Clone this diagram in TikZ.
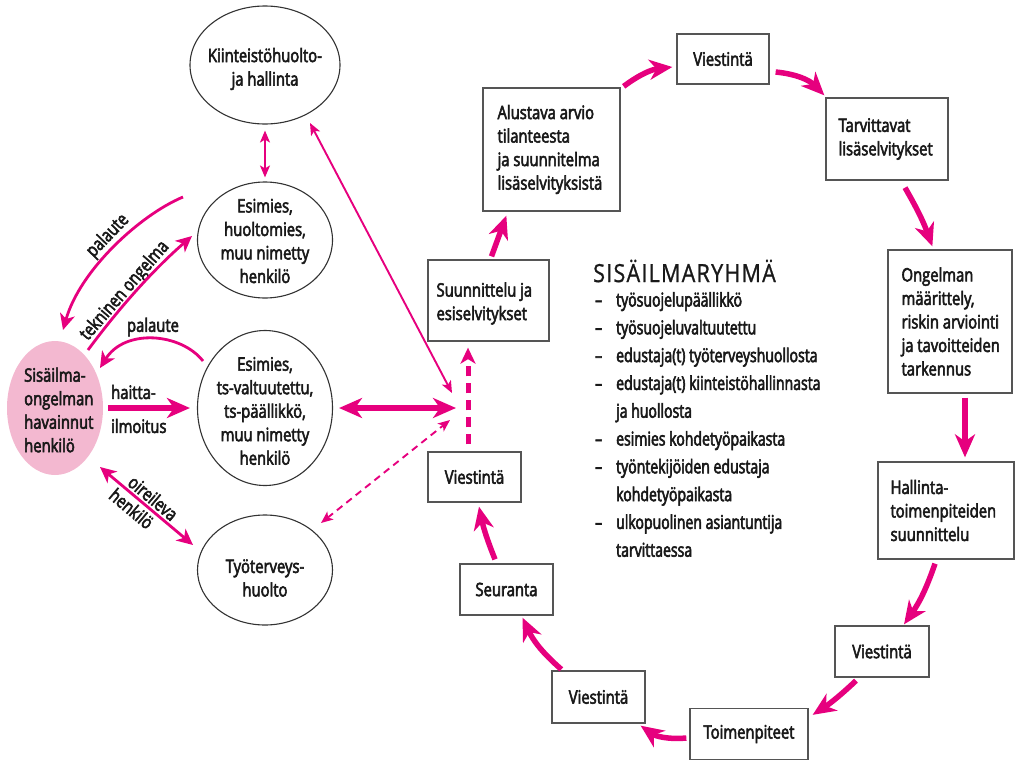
\documentclass[tikz,border=0pt]{standalone}
\usepackage{fontspec}
\usetikzlibrary{shapes.geometric,arrows.meta,calc}
\newfontfamily\bodyfont[FakeStretch=0.8,FakeBold=3]{Open Sans}
\newfontfamily\listfont[FakeStretch=0.74,FakeBold=3]{Open Sans}
\newfontfamily\headfont[FakeStretch=0.86,LetterSpace=5,FakeBold=1]{Open Sans}
\definecolor{mag}{RGB}{230,0,126}
\definecolor{rose}{RGB}{243,184,208}
\definecolor{frame}{RGB}{85,85,85}
\tikzset{
  bighead/.tip={Stealth[length=23pt,width=20pt,inset=7pt]},
  midhead/.tip={Stealth[length=16pt,width=15pt,inset=4.5pt]},
  smallhead/.tip={Stealth[length=12pt,width=10pt,inset=3pt]},
}
\begin{document}
\begin{tikzpicture}[x=1pt,y=-1pt,
  lbl/.style={font=\bodyfont\fontsize{18.5}{23.5}\selectfont, inner sep=0pt, text=black!90},
  lst/.style={font=\listfont\fontsize{19}{20}\selectfont, inner sep=0pt, text=black!90,
              text height=13.5pt, text depth=4.5pt},
  ell/.style={ellipse, draw=black!80, line width=1.1pt, inner sep=0pt},
  blk/.style={rectangle, draw=frame, line width=1.3pt, inner sep=0pt},
  cyc/.style={draw=mag, line width=5.5pt, -bighead},
  fat/.style={draw=mag, line width=6pt},
  lightarrow/.style={draw=mag, line width=1.9pt},
  medarrow/.style={draw=mag, line width=2.8pt},
]
\useasboundingbox (0,0) rectangle (1015,761);

% ---- parties on the left ----
\node[ell, minimum width=150pt, minimum height=118pt] (K) at (265,65) {};
\node[ell, minimum width=135pt, minimum height=116pt] (E1) at (265,240) {};
\node[ell, minimum width=135pt, minimum height=155pt] (E2) at (265,408) {};
\node[ell, minimum width=135pt, minimum height=110pt] (T) at (265,570) {};
\node[ellipse, fill=rose, minimum width=96pt, minimum height=134pt, inner sep=0pt] (S) at (55,408) {};

\node[lbl, align=center] (Kt) at (265,69) {Kiinteistöhuolto-\\ja hallinta};
\node[lbl, align=center] (E1t) at (265,241) {Esimies,\\huoltomies,\\muu nimetty\\henkilö};
\node[lbl, align=center] (E2t) at (265,411) {Esimies,\\ts-valtuutettu,\\ts-päällikkö,\\muu nimetty\\henkilö};
\node[lbl, align=center] (Tt) at (265,578) {Työterveys-\\huolto};
\node[lbl, align=left, anchor=west] (St) at (24,410) {Sisäilma-\\ongelman\\havainnut\\henkilö};

\node[lbl, anchor=west] (h1) at (111,392) {haitta-};
\node[lbl, anchor=west] (h2) at (111,426) {ilmoitus};
\node[lbl, rotate=46] (pal1) at (108,236) {palaute};
\node[lbl, rotate=49] (tek) at (125,291) {tekninen ongelma};
\node[lbl] (pal2) at (153,327) {palaute};

% ---- indoor air group cycle ----
\node[blk, minimum width=92pt, minimum height=50pt] (V1) at (723,59) {};
\node[blk, minimum width=137pt, minimum height=123pt] (A) at (551.5,149.5) {};
\node[blk, minimum width=122pt, minimum height=82pt] (Tv) at (887,139) {};
\node[blk, minimum width=124pt, minimum height=143pt] (O) at (950,321.5) {};
\node[blk, minimum width=136pt, minimum height=97pt] (H) at (946,510.5) {};
\node[blk, minimum width=94pt, minimum height=51pt] (V2) at (882,651.5) {};
\node[blk, minimum width=118pt, minimum height=51pt] (Tm) at (749,734) {};
\node[blk, minimum width=93pt, minimum height=52pt] (V3) at (598.5,697) {};
\node[blk, minimum width=93pt, minimum height=51pt] (Se) at (506.5,589.5) {};
\node[blk, minimum width=93pt, minimum height=50pt] (V4) at (474.5,477) {};
\node[blk, minimum width=121pt, minimum height=81pt] (Su) at (488.5,300.5) {};

\node[lbl] (V1t) at (V1) {Viestintä};
\node[lbl] (V2t) at (V2) {Viestintä};
\node[lbl] (V3t) at (V3) {Viestintä};
\node[lbl] (V4t) at (V4) {Viestintä};
\node[lbl] (Tmt) at (Tm) {Toimenpiteet};
\node[lbl] (Set) at (Se) {Seuranta};
\node[lbl, align=left, anchor=west] (At) at ($(A.west)+(15,0)$) {Alustava arvio\\tilanteesta\\ja suunnitelma\\lisäselvityksistä};
\node[lbl, align=left, anchor=west] (Tvt) at ($(Tv.west)+(13,0)$) {Tarvittavat\\lisäselvitykset};
\node[lbl, align=left, anchor=west] (Ot) at ($(O.west)+(14,0)$) {Ongelman\\määrittely,\\riskin arviointi\\ja tavoitteiden\\tarkennus};
\node[lbl, align=left, anchor=west] (Ht) at ($(H.west)+(13,0)$) {Hallinta-\\toimenpiteiden\\suunnittelu};
\node[lbl, align=left, anchor=west] (Sut) at ($(Su.west)+(9,3)$) {Suunnittelu ja\\esiselvitykset};

% ---- member list ----
\node[anchor=west, inner sep=0pt, text=black!90, font=\headfont\fontsize{25}{30}\selectfont] (ttl) at (593,271) {SISÄILMARYHMÄ};
\foreach \d/\t [count=\i from 0] in {1/työsuojelupäällikkö, 1/työsuojeluvaltuutettu,
  1/edustaja(t) työterveyshuollosta, 1/edustaja(t) kiinteistöhallinnasta, 0/ja huollosta,
  1/esimies kohdetyöpaikasta, 1/työntekijöiden edustaja, 0/kohdetyöpaikasta,
  1/ulkopuolinen asiantuntija, 0/tarvittaessa}{
  \node[lst, anchor=west] (li\i) at (616,302+27.8*\i) {\t};
  \ifnum\d=1 \node[lst, anchor=west] (ld\i) at (595,302+27.8*\i) {–}; \fi
}

% ---- connectors on the left ----
\coordinate (hub) at (457,408);
\draw[fat, bighead-bighead] ($(E2.east)+(6,0)$) -- ($(hub)+(-1,0)$);
\draw[fat, -bighead] ($(S.east)+(5,0)$) -- ($(E2.west)+(-7,0)$);
\draw[lightarrow, smallhead-smallhead] ($(K)+(45,58)$) -- ($(hub)+(-5,-15)$);
\draw[lightarrow, dash pattern=on 7pt off 5pt, smallhead-smallhead] ($(T)+(56,-47)$) -- ($(hub)+(-7,12)$);
\draw[lightarrow, smallhead-smallhead] ($(K.south)+(0,6)$) -- ($(E1.north)+(0,-4)$);
\draw[draw=mag, line width=5pt, dash pattern=on 10pt off 7pt, -midhead] ($(V4.north)+(-6.5,-7)$) -- ($(Su.south)+(-20.5,6)$);

\draw[medarrow, -midhead] ($(E2)+(-62,-47)$) .. controls +(-22,-28) and +(25,-40) .. ($(S)+(45,-40)$);
\draw[medarrow, -midhead] ($(E1)+(-82,-43)$) .. controls +(-43,18) and +(17,-60) .. ($(S)+(8,-78)$);
\draw[medarrow, -midhead] ($(S)+(33,-58)$) .. controls +(31,-42) and +(-39,34) .. ($(E1)+(-73,-4)$);
\draw[medarrow, midhead-midhead] ($(S)+(45,59)$) --
  node[lbl, sloped, above=2pt, midway] (oir) {oireileva}
  node[lbl, sloped, below=3pt, pos=0.42] (hen) {henkilö}
  ($(T)+(-72,-25)$);

% ---- cycle arrows ----
\draw[cyc] ($(Su.north)+(3,-3)$) -- ($(A.south west)+(24,4)$);
\draw[cyc] ($(A.north east)+(3,-1)$) to[bend left=15] ($(V1.west)+(-4,8)$);
\draw[cyc] ($(V1.east)+(6,13)$) to[bend left=20] ($(Tv.north west)+(-1,-2)$);
\draw[cyc] ($(Tv.south)+(18,7)$) to[bend left=5] ($(O.north west)+(45,-3)$);
\draw[cyc] ($(O.south)+(15,4)$) -- ($(H.north)+(19,-4)$);
\draw[cyc] ($(H.south)+(-11,4)$) to[bend left=8] ($(V2.north)+(22,-1)$);
\draw[cyc] ($(V2.south)+(-26,3)$) to[bend left=5] ($(Tm.north east)+(4,7)$);
\draw[cyc] ($(Tm.west)+(-3,4)$) to[bend left=20] ($(V3.south east)+(-5,2)$);
\draw[cyc] ($(V3.north west)+(10,-1)$) to[bend left=12] ($(Se.south)+(16,2)$);
\draw[cyc] ($(Se.north)+(-11.5,-4)$) to[bend left=5] ($(V4.south)+(4.5,4)$);
\end{tikzpicture}
\end{document}
